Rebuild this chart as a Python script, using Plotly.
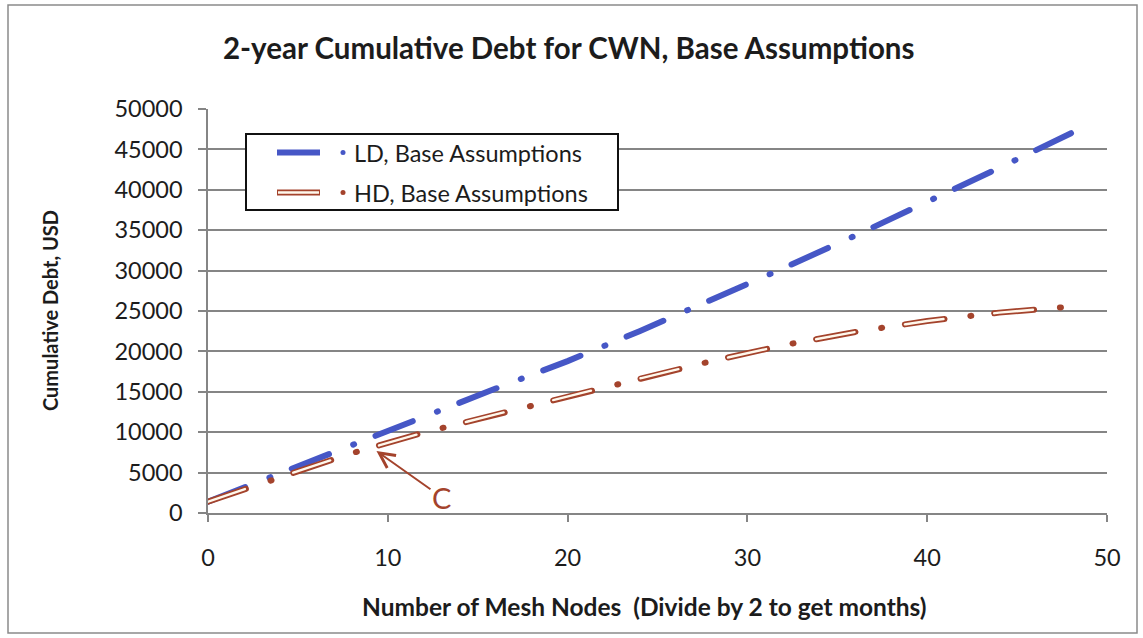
import plotly.graph_objects as go

# Cumulative debt over the first 48 mesh nodes (2 nodes per month)
nodes = [0, 4, 8, 12, 16, 20, 24, 28, 32, 36, 40, 44, 48]
ld_debt = [1400, 4950, 8420, 11900, 15400, 18800, 22500, 26350, 30300, 34330, 38450, 42700, 47000]
hd_debt = [1400, 4450, 7400, 9950, 12200, 14450, 16640, 18800, 20760, 22410, 23770, 24800, 25550]

series_names = ["LD, Base Assumptions", "HD, Base Assumptions"]
y_ticks = [0, 5000, 10000, 15000, 20000, 25000, 30000, 35000, 40000, 45000, 50000]
x_ticks = [0, 10, 20, 30, 40, 50]

title_text = "2-year Cumulative Debt for CWN, Base Assumptions"
x_title = "Number of Mesh Nodes  (Divide by 2 to get months)"
y_title = "Cumulative Debt, USD"
callout_text = "C"
callout_x, callout_y = 9.37, 7670

BLUE = "#4657C6"
BROWN = "#A4432C"
CREAM = "#FFF8EC"
GRID = "#858585"
TEXT = "#1c1c1c"
FONT = "Lato"

W, H = 1143, 638
L, R, T, B = 208, 36, 109, 125
PW, PH = W - L - R, H - T - B


def px(x):
    return (x - L) / PW


def py(y):
    return (H - B - y) / PH


fig = go.Figure()

# LD: thick blue dash-dot
fig.add_trace(go.Scatter(
    x=nodes, y=ld_debt, mode="lines", name=series_names[0], showlegend=False,
    line=dict(color=BLUE, width=6, dash="40px,26px,1px,23px"),
    hoverinfo="x+y",
))
# HD: hollow brown dash-dot (outer brown stroke, inner light stroke)
fig.add_trace(go.Scatter(
    x=nodes, y=hd_debt, mode="lines", name=series_names[1], showlegend=False,
    line=dict(color=BROWN, width=6, dash="40px,26px,1px,23px"),
    hoverinfo="x+y",
))
fig.add_trace(go.Scatter(
    x=nodes, y=hd_debt, mode="lines", showlegend=False, hoverinfo="skip",
    line=dict(color=CREAM, width=2.4, dash="0px,1px,38px,51px"),
))

shapes = []
# outer chart border
shapes.append(dict(type="rect", xref="paper", yref="paper",
                   x0=px(8), x1=px(1137), y0=py(633), y1=py(5),
                   line=dict(color="#8a8a8a", width=1.5), layer="below"))

# legend box and keys
lx0, lx1, ly0, ly1 = 246, 618, 134, 210
shapes.append(dict(type="rect", xref="paper", yref="paper",
                   x0=px(lx0), x1=px(lx1), y0=py(ly1), y1=py(ly0),
                   line=dict(color="#111111", width=2), fillcolor="white"))
key_rows = [152.5, 192.5]
shapes.append(dict(type="line", xref="paper", yref="paper",
                   x0=px(277), x1=px(320), y0=py(key_rows[0]), y1=py(key_rows[0]),
                   line=dict(color=BLUE, width=6)))
shapes.append(dict(type="line", xref="paper", yref="paper",
                   x0=px(277), x1=px(320), y0=py(key_rows[1]), y1=py(key_rows[1]),
                   line=dict(color=BROWN, width=6)))
shapes.append(dict(type="line", xref="paper", yref="paper",
                   x0=px(278), x1=px(319), y0=py(key_rows[1]), y1=py(key_rows[1]),
                   line=dict(color=CREAM, width=2.4)))
for row, col in zip(key_rows, [BLUE, BROWN]):
    shapes.append(dict(type="circle", xref="paper", yref="paper",
                       x0=px(340.5), x1=px(345.5), y0=py(row + 2.5), y1=py(row - 2.5),
                       line=dict(width=0), fillcolor=col))

annotations = []
for row, name in zip(key_rows, series_names):
    annotations.append(dict(text=name, xref="paper", yref="paper",
                            x=px(352), y=py(row), xanchor="left", yanchor="middle",
                            showarrow=False, font=dict(family=FONT, size=23.5, color=TEXT)))

annotations.append(dict(text="<b>" + title_text + "</b>", xref="paper", yref="paper",
                        x=px(568), y=py(47), xanchor="center", yanchor="middle",
                        showarrow=False, font=dict(family=FONT, size=29.5, color=TEXT)))
annotations.append(dict(text="<b>" + y_title + "</b>", xref="paper", yref="paper",
                        x=px(50), y=py(311), xanchor="center", yanchor="middle",
                        textangle=-90, showarrow=False,
                        font=dict(family=FONT, size=20, color=TEXT)))
annotations.append(dict(text="<b>" + x_title + "</b>", xref="paper", yref="paper",
                        x=px(644), y=py(606), xanchor="center", yanchor="middle",
                        showarrow=False, font=dict(family=FONT, size=24.5, color=TEXT)))
annotations.append(dict(text=callout_text, x=callout_x, y=callout_y, xref="x", yref="y",
                        ax=65, ay=46, showarrow=True, arrowhead=5, arrowsize=1.5,
                        arrowwidth=2, arrowcolor=BROWN, standoff=0,
                        font=dict(family=FONT, size=29, color=BROWN)))

fig.update_layout(
    width=W, height=H,
    margin=dict(l=L, r=R, t=T, b=B, pad=0),
    paper_bgcolor="white", plot_bgcolor="white",
    showlegend=False,
    shapes=shapes, annotations=annotations,
    font=dict(family=FONT, color=TEXT),
)
fig.update_xaxes(
    range=[0, 50], tickvals=x_ticks, ticktext=[str(v) for v in x_ticks],
    showgrid=False, zeroline=False,
    showline=True, linecolor=GRID, linewidth=1.5,
    ticks="outside", ticklen=7, tickwidth=1.5, tickcolor=GRID,
    ticklabelstandoff=16, tickfont=dict(family=FONT, size=23.5, color=TEXT),
)
fig.update_yaxes(
    range=[0, 50000], tickvals=y_ticks, ticktext=[str(v) for v in y_ticks],
    showgrid=True, gridcolor=GRID, gridwidth=1.5, zeroline=False,
    showline=True, linecolor=GRID, linewidth=1.5,
    ticks="outside", ticklen=8, tickwidth=1.5, tickcolor=GRID,
    ticklabelstandoff=11, tickfont=dict(family=FONT, size=23.5, color=TEXT),
)

# rounded ends on the dashed series strokes
round_caps = """
var gd = document.getElementById('{plot_id}');
gd.querySelectorAll('.scatterlayer .js-line').forEach(function (p) {
    p.style.strokeLinecap = 'round';
});
"""

fig.write_html("out.html", post_script=round_caps)
